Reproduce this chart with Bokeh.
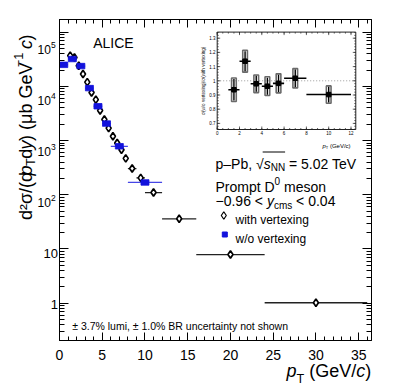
import numpy as np
from math import pi, log10
from bokeh.plotting import figure
from bokeh.layouts import row, column
from bokeh.models import (Range1d, LinearScale, LogScale, LinearAxis, LogAxis, FixedTicker,
                          CustomJSTickFormatter)
from bokeh.core.properties import value
from bokeh.embed import file_html
from bokeh.resources import INLINE

# ---------------- data ----------------
# D0 cross section, with vertexing (open diamonds)
pt_wv = [1.25, 1.75, 2.25, 2.75, 3.25, 3.75, 4.25, 4.75, 5.25, 5.75, 6.25, 6.75,
         7.25, 7.75, 8.5, 9.5, 11.0, 14.0, 20.0, 30.0]
xerr_wv = [0.25] * 14 + [0.5, 0.5, 1.0, 2.0, 4.0, 6.0]
xs_wv = [3.7e4, 3.4e4, 2.4e4, 1.7e4, 1.2e4, 7.7e3, 5.7e3, 3.6e3, 2.45e3, 1.7e3,
         1.2e3, 900, 680, 470, 305, 205, 110, 36, 7.9, 1.02]

# D0 cross section, without vertexing (blue squares)
pt_wo = [0.5, 1.5, 2.5, 3.5, 4.5, 5.5, 7.0, 10.0]
xerr_wo = [0.5] * 6 + [1.0, 2.0]
xs_wo = [2.5e4, 3.2e4, 2.37e4, 9.3e3, 4.3e3, 2.06e3, 785, 169]

# ratio (inset)
r_pt = [1.5, 2.5, 3.5, 4.5, 5.5, 7.0, 10.0]
r_xerr = [0.5] * 5 + [1.0, 2.0]
r_val = [0.937, 1.138, 0.979, 0.962, 0.982, 1.018, 0.903]
r_stat = [0.075, 0.07, 0.056, 0.06, 0.06, 0.062, 0.055]
r_sys = [0.083, 0.077, 0.062, 0.066, 0.067, 0.068, 0.061]

# ticks and tick labels
x_ticks = [0, 5, 10, 15, 20, 25, 30, 35]
x_tick_labels = ["0", "5", "10", "15", "20", "25", "30", "35"]
y_ticks = [1, 10, 100, 1000, 10000, 100000]
y_tick_exp = [0, 1, 2, 3, 4, 5]
ins_x_ticks = [0, 2, 4, 6, 8, 10, 12]
ins_x_labels = ["0", "2", "4", "6", "8", "10", "12"]
ins_y_ticks = [0.7, 0.8, 0.9, 1.0, 1.1, 1.2, 1.3]
ins_y_labels = ["0.7", "0.8", "0.9", "1", "1.1", "1.2", "1.3"]

# ---------------- layout constants (page px) ----------------
FONT = "Liberation Sans"
FL, FR, FT, FB = 59.0, 371.0, 19.0, 340.0      # main frame
TOT_W, TOT_H = 398, 386
A_W = 58                                        # left strip (y labels)
TOP_H = 341                                     # height of strip A and main plot
P_W = TOT_W - A_W
B_H = TOT_H - TOP_H                             # bottom strip (x labels)
X0, X1 = 0.0, 36.5
Y0, Y1 = 0.205, 1.715e5
DX = (FR - FL) / (X1 - X0)
DY = (FB - FT) / (log10(Y1) - log10(Y0))
IX0, IXS = 216.7, 11.15      # inset: x=0 position, px per unit
IY1, IYS = 80.3, 142.0       # inset: y=1 position, px per unit
INS_X = (0.0, 12.43)
INS_Y = (0.657, 1.343)

# ---------------- text helpers ----------------
AW = {' ': 278, '(': 333, ')': 333, ',': 278, '-': 333, '.': 278, '/': 278, '%': 889,
      '<': 584, '=': 584, '>': 584, '±': 584, '−': 584, '–': 556, '√': 549, '²': 333,
      'σ': 571, 'μ': 576, 'A': 667, 'B': 667, 'C': 722, 'D': 722, 'E': 667, 'G': 778,
      'I': 278, 'L': 556, 'N': 722, 'P': 667, 'R': 722, 'T': 611, 'V': 667,
      'a': 556, 'b': 556, 'c': 500, 'd': 556, 'e': 556, 'g': 556, 'h': 556, 'i': 222,
      'l': 222, 'm': 833, 'n': 556, 'o': 556, 'p': 556, 'r': 333, 's': 500, 't': 278,
      'u': 556, 'v': 500, 'w': 722, 'x': 500, 'y': 500}


def tw(s, size):
    return sum(AW.get(ch, 556) for ch in s) * size / 1000.0


def gtext(f, txt, X, Y, size, italic=False, align="left", baseline="alphabetic", angle=0.0):
    f.text(x=[X], y=[Y], text=[txt], x_range_name="pg", y_range_name="pg",
           text_font=value(FONT), text_font_size=value(f"{size}px"),
           text_font_style=value("italic" if italic else "normal"),
           text_align=align, text_baseline=baseline, angle=angle, text_color="black")


def rich(f, pieces, X, Y, vertical=False):
    cur = Y if vertical else X
    for txt, size, italic, shift in pieces:
        body = txt.strip(" ")
        lead = tw(txt[:len(txt) - len(txt.lstrip(" "))], size)
        if vertical:
            gtext(f, body, X + shift, cur - lead, size, italic, angle=pi / 2)
            cur -= tw(txt, size)
        else:
            gtext(f, body, cur + lead, Y + shift, size, italic)
            cur += tw(txt, size)
    return cur


def strip_fig(w, h, px0, px1, py0, py1):
    f = figure(width=w, height=h, x_range=Range1d(px0, px1), y_range=Range1d(py1, py0),
               x_axis_location=None, y_axis_location=None, min_border=0,
               output_backend="svg", toolbar_location=None)
    f.title = None
    f.grid.visible = False
    f.outline_line_color = None
    f.extra_x_ranges = {"pg": Range1d(px0, px1)}
    f.extra_y_ranges = {"pg": Range1d(py1, py0)}
    f.extra_x_scales = {"pg": LinearScale()}
    f.extra_y_scales = {"pg": LinearScale()}
    return f


# ---------------- main figure ----------------
p = figure(width=P_W, height=TOP_H, x_range=Range1d(X0, X1), y_range=Range1d(Y0, Y1),
           y_axis_type="log", output_backend="svg", toolbar_location=None,
           min_border_left=int(FL - A_W), min_border_right=int(TOT_W - FR),
           min_border_top=int(FT), min_border_bottom=int(TOP_H - FB))
p.title = None
p.grid.visible = False
p.outline_line_color = "black"

p.extra_x_ranges = {"pg": Range1d(FL, FR),
                    "ix": Range1d((FL - IX0) / IXS, (FR - IX0) / IXS)}
p.extra_y_ranges = {"pg": Range1d(FB, FT),
                    "iy": Range1d(1 - (FB - IY1) / IYS, 1 + (IY1 - FT) / IYS)}
p.extra_x_scales = {"pg": LinearScale(), "ix": LinearScale()}
p.extra_y_scales = {"pg": LinearScale(), "iy": LinearScale()}

xt = FixedTicker(ticks=x_ticks, minor_ticks=list(range(0, 37)))
yt = FixedTicker(ticks=y_ticks,
                 minor_ticks=[m * 10.0 ** k for k in range(-1, 6) for m in range(2, 10)])


def style(ax, maj, mnr):
    ax.formatter = CustomJSTickFormatter(code="return ''")
    ax.major_label_text_font_size = "0px"
    ax.major_label_standoff = 0
    ax.major_tick_in = maj
    ax.major_tick_out = 0
    ax.minor_tick_in = mnr
    ax.minor_tick_out = 0
    ax.axis_line_color = "black"
    ax.major_tick_line_color = "black"
    ax.minor_tick_line_color = "black"


p.xaxis[0].ticker = xt
style(p.xaxis[0], 8, 4)
p.yaxis[0].ticker = yt
style(p.yaxis[0], 9, 5)
xa = LinearAxis(ticker=xt)
style(xa, 8, 4)
p.add_layout(xa, "above")
yr = LogAxis(ticker=yt)
style(yr, 9, 5)
p.add_layout(yr, "right")

# ---------------- main data ----------------
p.segment(x0=[a - b for a, b in zip(pt_wv, xerr_wv)], x1=[a + b for a, b in zip(pt_wv, xerr_wv)],
          y0=xs_wv, y1=xs_wv, line_color="#222222", line_width=1.3)
p.scatter(x=pt_wv, y=xs_wv, marker="diamond", size=7.5, fill_color="white",
          line_color="black", line_width=1.7)

p.segment(x0=[a - b for a, b in zip(pt_wo, xerr_wo)], x1=[a + b for a, b in zip(pt_wo, xerr_wo)],
          y0=xs_wo, y1=xs_wo, line_color="#4646e6", line_width=1.3)
p.rect(x=pt_wo, y=xs_wo, width=8, height=5.5, width_units="screen", height_units="screen",
       fill_color="#1212dc", line_color="#1212dc", line_width=0.8)

# ---------------- inset ----------------
IR = dict(x_range_name="ix", y_range_name="iy")
p.quad(left=[INS_X[0]], right=[INS_X[1]], bottom=[INS_Y[0]], top=[INS_Y[1]],
       fill_color="white", line_color="#222222", line_width=1, **IR)
p.segment(x0=[INS_X[0]], x1=[INS_X[1]], y0=[1.0], y1=[1.0], line_color="#9a9a9a",
          line_dash="1 2", line_width=1, **IR)

mx_maj = np.array(ins_x_ticks, dtype=float)
mx_min = np.arange(0.0, INS_X[1] + 1e-9, 0.5)
my_maj = np.array(ins_y_ticks, dtype=float)
my_min = np.arange(0.66, INS_Y[1], 0.02)
for xs, ln in ((mx_maj, 3.0), (mx_min, 1.5)):
    d = ln / IYS
    p.segment(x0=xs, x1=xs, y0=[INS_Y[0]] * len(xs), y1=[INS_Y[0] + d] * len(xs),
              line_color="#222222", line_width=0.7, **IR)
    p.segment(x0=xs, x1=xs, y0=[INS_Y[1]] * len(xs), y1=[INS_Y[1] - d] * len(xs),
              line_color="#222222", line_width=0.7, **IR)
for ys, ln in ((my_maj, 3.0), (my_min, 1.5)):
    d = ln / IXS
    p.segment(x0=[INS_X[0]] * len(ys), x1=[INS_X[0] + d] * len(ys), y0=ys, y1=ys,
              line_color="#222222", line_width=0.7, **IR)
    p.segment(x0=[INS_X[1]] * len(ys), x1=[INS_X[1] - d] * len(ys), y0=ys, y1=ys,
              line_color="#222222", line_width=0.7, **IR)

p.text(x=[-1.8 / IXS] * len(ins_y_ticks), y=ins_y_ticks, text=ins_y_labels,
       text_font=value(FONT), text_font_size=value("4.5px"), text_align="right",
       text_baseline="middle", text_color="black", **IR)
p.text(x=ins_x_ticks, y=[INS_Y[0] - 3.0 / IYS] * len(ins_x_ticks), text=ins_x_labels,
       text_font=value(FONT), text_font_size=value("4.5px"), text_align="center",
       text_baseline="middle", text_color="black", **IR)

p.rect(x=r_pt, y=r_val, width=0.42, height=[2 * s for s in r_sys], fill_color=None,
       line_color="#6a6a6a", line_width=1.6, **IR)
p.segment(x0=r_pt, x1=r_pt, y0=[v - s for v, s in zip(r_val, r_stat)],
          y1=[v + s for v, s in zip(r_val, r_stat)], line_color="black", line_width=1.4, **IR)
p.segment(x0=[a - b for a, b in zip(r_pt, r_xerr)], x1=[a + b for a, b in zip(r_pt, r_xerr)],
          y0=r_val, y1=r_val, line_color="black", line_width=1.6, **IR)
p.scatter(x=r_pt, y=r_val, marker="square", size=4.5, fill_color="black",
          line_color="black", **IR)

gtext(p, "σ(w/o vertexing)/σ(with vertexing)", 203.0, 80.3, 4.6, align="center",
      baseline="middle", angle=pi / 2)
rich(p, [("p", 6, True, 0), ("T", 4, False, 2), (" (GeV/c)", 6, False, 0)], 322.0, 145.0)

# ---------------- texts & legend in the frame ----------------
gtext(p, "ALICE", 92.7, 42.7, 14)
sq_x = 215.0 + tw("p–Pb, ", 14)
rich(p, [("p–Pb, ", 14, False, 0), ("√", 14, False, 0), ("s", 14, True, 0),
         ("NN", 10, False, 4), (" = 5.02 TeV", 14, False, 0)], 215.0, 163.0)
ov_l = sq_x + tw("√", 14) - 1.0
ov_r = ov_l + 1.0 + tw("s", 14) + tw("NN", 10)
p.segment(x0=[ov_l], x1=[ov_r], y0=[151.5], y1=[151.5], line_color="black",
          line_width=1, x_range_name="pg", y_range_name="pg")
rich(p, [("Prompt D", 14, False, 0), ("0", 10, False, -6), (" meson", 14, False, 0)],
     215.0, 186.0)
rich(p, [("−0.96 < ", 14, False, 0), ("y", 14, True, 0), ("cms", 10, False, 4),
         (" < 0.04", 14, False, 0)], 215.0, 200.7)

p.scatter(x=[223.3], y=[215.0], marker="diamond", size=7.5, fill_color="white",
          line_color="black", line_width=1.2, x_range_name="pg", y_range_name="pg")
gtext(p, "with vertexing", 235.0, 219.3, 12)
p.rect(x=[224.3], y=[234.0], width=5, height=5, width_units="screen", height_units="screen",
       fill_color="#1212dc", line_color="#1212dc", x_range_name="pg", y_range_name="pg")
gtext(p, "w/o vertexing", 235.0, 238.3, 12)

gtext(p, "± 3.7% lumi, ± 1.0% BR uncertainty not shown", 71.7, 325.0, 10.5)

# ---------------- left strip: y tick labels and y title ----------------
A = strip_fig(A_W, TOP_H, 0.0, float(A_W), 0.0, float(TOP_H))
A.extra_y_ranges["ly"] = Range1d(10 ** (log10(Y0) - (TOP_H - FB) / DY),
                                 10 ** (log10(Y1) + FT / DY))
A.extra_y_scales["ly"] = LogScale()
for t, e in zip(y_ticks, y_tick_exp):
    common = dict(x_range_name="pg", y_range_name="ly", text_font=value(FONT),
                  text_baseline="middle", text_color="black")
    if e <= 1:
        A.text(x=[57.5], y=[t], text=[str(t)], text_font_size=value("13px"),
               text_align="right", **common)
    else:
        A.text(x=[50.3], y=[t], text=["10"], text_font_size=value("12px"),
               text_align="right", **common)
        A.text(x=[50.6], y=[t * 10 ** (5.0 / DY)], text=[str(e)],
               text_font_size=value("8.5px"), text_align="left", **common)

F = 18
rich(A, [("d²σ/(d", F, False, 0), ("p", F, True, 0), ("T", 0.7 * F, False, 5),
         ("d", F, False, 0), ("y", F, True, 0), (") (μb GeV", F, False, 0),
         ("−1", 0.7 * F, False, -7.5), (" c", F, True, 0), (")", F, False, 0)],
     25.0, 213.0, vertical=True)

# ---------------- bottom strip: x tick labels and x title ----------------
B = strip_fig(TOT_W, B_H, 0.0, float(TOT_W), float(TOP_H), float(TOT_H))
B.extra_x_ranges["lx"] = Range1d(X0 - FL / DX, X1 + (TOT_W - FR) / DX)
B.extra_x_scales["lx"] = LinearScale()
B.text(x=x_ticks, y=[354.0] * len(x_ticks), text=x_tick_labels, x_range_name="lx",
       y_range_name="pg", text_font=value(FONT), text_font_size=value("14px"),
       text_align="center", text_baseline="alphabetic", text_color="black")
xl = [("p", 18, True, 0), ("T", 12.6, False, 8), (" (GeV/", 18, False, 0),
      ("c", 18, True, 0), (")", 18, False, 0)]
rich(B, xl, 370.7 - sum(tw(t, s) for t, s, _, _ in xl), 370.0)

layout = column(row(A, p, spacing=0), B, spacing=0)
open("out.html", "w").write(file_html(layout, INLINE))
